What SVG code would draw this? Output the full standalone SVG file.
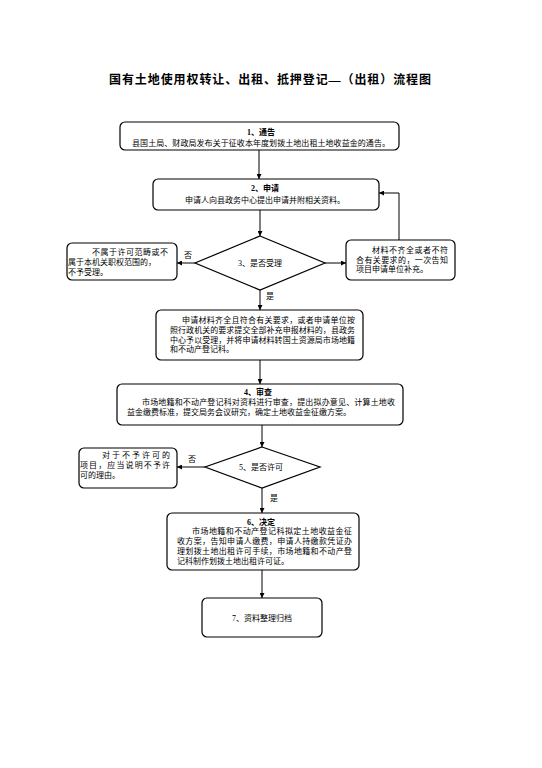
<svg xmlns="http://www.w3.org/2000/svg" width="542" height="768" viewBox="0 0 542 768">
<style>
text{font-family:"Liberation Serif","Noto Sans CJK SC",serif;font-size:8px;fill:#000}
.c{text-anchor:middle}
.b{font-weight:bold}
.title{font-size:12px;font-weight:bold}
.box{fill:#fff;stroke:#000;stroke-width:1.2}
.line{fill:none;stroke:#000;stroke-width:1}
</style>
<defs>
<marker id="arr" viewBox="0 0 10 10" refX="10" refY="5" markerWidth="5" markerHeight="5" orient="auto" markerUnits="userSpaceOnUse">
<path d="M0,0 L10,5 L0,10 z" fill="#000"/>
</marker>
</defs>
<rect width="542" height="768" fill="#fff"/>
<text class="title c" x="270" y="84" textLength="322" lengthAdjust="spacing">国有土地使用权转让、出租、抵押登记—（出租）流程图</text>

<g id="connectors">
<line class="line" x1="259" y1="150" x2="259" y2="179" marker-end="url(#arr)"/>
<line class="line" x1="260" y1="210" x2="260" y2="236" marker-end="url(#arr)"/>
<line class="line" x1="195" y1="263" x2="177" y2="263" marker-end="url(#arr)"/>
<line class="line" x1="325" y1="263" x2="346" y2="263" marker-end="url(#arr)"/>
<polyline class="line" points="399,240 399,193 379,193" marker-end="url(#arr)"/>
<line class="line" x1="260" y1="290" x2="260" y2="310" marker-end="url(#arr)"/>
<line class="line" x1="260" y1="360" x2="260" y2="384" marker-end="url(#arr)"/>
<line class="line" x1="262" y1="425" x2="262" y2="447" marker-end="url(#arr)"/>
<line class="line" x1="205" y1="467" x2="177" y2="467" marker-end="url(#arr)"/>
<line class="line" x1="262" y1="488" x2="262" y2="513" marker-end="url(#arr)"/>
<line class="line" x1="262" y1="570" x2="262" y2="598" marker-end="url(#arr)"/>
<text x="184" y="258">否</text>
<text x="266" y="299">是</text>
<text x="188" y="462">否</text>
<text x="270" y="501">是</text>
</g>

<g id="n1">
<rect class="box" x="120" y="122" width="279" height="28" rx="5"/>
<text class="c b" x="261" y="135">1、通告</text>
<text x="132" y="146" textLength="258" lengthAdjust="spacing">县国土局、财政局发布关于征收本年度划拨土地出租土地收益金的通告。</text>
</g>

<g id="n2">
<rect class="box" x="153" y="179" width="226" height="31" rx="5"/>
<text class="c b" x="265" y="191">2、申请</text>
<text x="185" y="203" textLength="160" lengthAdjust="spacing">申请人向县政务中心提出申请并附相关资料。</text>
</g>

<g id="n3">
<polygon class="box" points="260,236 325,263 260,290 195,263"/>
<text class="c" x="260" y="266">3、是否受理</text>
</g>

<g id="n3no">
<rect class="box" x="67" y="243" width="110" height="37" rx="5"/>
<text x="92" y="255" textLength="76" lengthAdjust="spacing">不属于许可范畴或不</text>
<text x="68" y="265">属于本机关职权范围的，</text>
<text x="68" y="275">不予受理。</text>
</g>

<g id="n3back">
<rect class="box" x="346" y="240" width="109" height="40" rx="5"/>
<text x="372" y="253" textLength="76" lengthAdjust="spacing">材料不齐全或者不符</text>
<text x="356" y="263" textLength="92" lengthAdjust="spacing">合有关要求的，一次告知</text>
<text x="356" y="272">项目申请单位补充。</text>
</g>

<g id="n3yes">
<rect class="box" x="156" y="310" width="207" height="50" rx="5"/>
<text x="182" y="323" textLength="173" lengthAdjust="spacing">申请材料齐全且符合有关要求，或者申请单位按</text>
<text x="170" y="333" textLength="185" lengthAdjust="spacing">照行政机关的要求提交全部补充申报材料的，县政务</text>
<text x="170" y="343" textLength="185" lengthAdjust="spacing">中心予以受理，并将申请材料转国土资源局市场地籍</text>
<text x="170" y="352">和不动产登记科。</text>
</g>

<g id="n4">
<rect class="box" x="117" y="384" width="286" height="41" rx="5"/>
<text class="c b" x="258" y="395">4、审查</text>
<text x="142" y="405" textLength="253" lengthAdjust="spacing">市场地籍和不动产登记科对资料进行审查，提出拟办意见、计算土地收</text>
<text x="127" y="415">益金缴费标准，提交局务会议研究，确定土地收益金征缴方案。</text>
</g>

<g id="n5">
<polygon class="box" points="262,447 320,467 262,488 205,467"/>
<text class="c" x="261" y="470">5、是否许可</text>
</g>

<g id="n5no">
<rect class="box" x="79" y="448" width="98" height="40" rx="5"/>
<text x="102" y="458" textLength="68" lengthAdjust="spacing">对于不予许可的</text>
<text x="80" y="468" textLength="90" lengthAdjust="spacing">项目，应当说明不予许</text>
<text x="80" y="478">可的理由。</text>
</g>

<g id="n6">
<rect class="box" x="167" y="513" width="192" height="57" rx="5"/>
<text class="c b" x="261" y="525">6、决定</text>
<text x="192" y="534" textLength="160" lengthAdjust="spacing">市场地籍和不动产登记科拟定土地收益金征</text>
<text x="177" y="544" textLength="175" lengthAdjust="spacing">收方案，告知申请人缴费，申请人持缴款凭证办</text>
<text x="177" y="554" textLength="175" lengthAdjust="spacing">理划拨土地出租许可手续，市场地籍和不动产登</text>
<text x="177" y="564">记科制作划拨土地出租许可证。</text>
</g>

<g id="n7">
<rect class="box" x="202" y="598" width="120" height="39" rx="5"/>
<text class="c" x="262" y="621">7、资料整理归档</text>
</g>
</svg>
